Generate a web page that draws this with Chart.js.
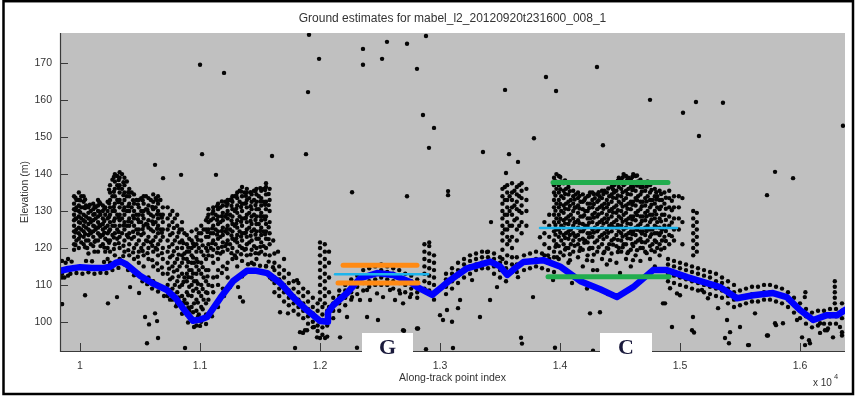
<!DOCTYPE html>
<html><head><meta charset="utf-8">
<script src="https://cdn.jsdelivr.net/npm/chart.js@4.4.0/dist/chart.umd.min.js"></script>
<style>html,body{margin:0;padding:0;background:#fff;overflow:hidden}canvas{display:block}</style>
</head><body>
<canvas id="c" width="856" height="398"></canvas>
<script>
// ---------- text ----------
const chartTitle = 'Ground estimates for mabel_l2_20120920t231600_008_1';
const xAxisTitle = 'Along-track point index';
const yAxisTitle = 'Elevation (m)';
const boxLabels = ['G', 'C'];

// ---------- axes ----------
const xTicks = [10000, 11000, 12000, 13000, 14000, 15000, 16000];
const yTicks = [100, 110, 120, 130, 140, 150, 160, 170];
const xRange = [9833, 16375];
const yRange = [92.1, 178.2];

// ---------- ground estimate (blue) ----------
const groundIdx = [9833,9900,10000,10100,10200,10250,10300,10340,10380,10500,10600,10725,10800,10860,10940,11000,11060,11170,11275,11390,11470,11560,11670,11775,11890,12000,12065,12066,12110,12225,12335,12475,12610,12750,12810,12935,13000,13085,13225,13420,13500,13560,13625,13695,13860,14000,14170,14335,14475,14610,14775,14890,15060,15335,15475,15610,15775,15890,16000,16110,16225,16310,16375];
const groundElev = [113.8,114.3,114.8,114.6,114.6,114.9,116.0,116.3,115.7,112.5,110.5,108.6,106.3,103.6,100.3,100.6,101.3,106.5,111.0,113.8,113.8,113.2,110.5,106.7,103.2,100.2,100.0,102.5,104.5,107.8,111.8,113.2,112.7,110.8,109.4,107.3,109.0,111.3,114.5,116.3,115.0,112.7,114.5,116.2,116.7,115.0,111.0,108.8,106.7,109.4,114.0,114.0,112.1,109.4,106.4,107.2,107.8,106.7,103.2,100.5,101.8,101.8,103.2];

// ---------- reference levels ----------
const gOrangeTop = [[12192,115.3],[12808,115.3]];
const gOrangeBot = [[12150,110.5],[12817,110.5]];
const gCyan      = [[12125,112.9],[12900,112.9]];
const cGreenTop  = [[13942,137.7],[14900,137.7]];
const cGreenBot  = [[13900,112.2],[14908,112.2]];
const cCyan      = [[13833,125.4],[14975,125.4]];

// ---------- photon returns (black), column form [index, [elevations]] ----------
const cloudLeft = [
[9850,[104.8,112,113,116.5]],[9900,[112.5,114.5,117]],
[9950,[119.5,121,123,124.5,126,127.5,129,130.5,132,134]],[9970,[122,125,128,131,133]],
[9990,[120,122.5,124,125.5,127,128.5,130,131.5,133,135]],[10010,[121.5,125,128,131,134]],
[10030,[121,123,124.5,126,127.5,129,131,132.5,134]],[10050,[122,125.5,128.5,131.5]],
[10070,[118.5,122,123.5,125,126.5,128,129.5,131]],[10090,[121,124,127,130]],
[10110,[120.5,123,124.5,126,127.5,129,130.5,132]],[10130,[122,125,128,131]],
[10150,[119,122,124,125.5,127,128.5,130,131.5,133]],[10170,[120.5,123,126,129,132]],
[10190,[121,123.5,125,126.5,128,130,131.5]],[10210,[119,122.5,125.5,129,131]],
[10230,[117,120,122,124,126,128,130,132.5]],
[10250,[116,119,122,125,127,129,131,133,135,137]],[10270,[123.5,126,130,134,138.5]],
[10290,[118,121,124,126,128,130,132,134,136,138,140]],[10310,[122.5,125,129,133,137,139.5]],
[10330,[117,120,123,126,127.5,129,131,133,135,137,139,140.5]],[10350,[124,128,132,136,140]],
[10370,[115.5,119,122,125,127,129,131,133,135,137,139]],[10390,[123.5,126,130,134,138]],
[10410,[118,121,124,126,128,130,132,134,136]],[10430,[122.5,127,131,135]],
[10450,[114,117,120,123,126,128,130,132,134.5]],[10470,[121,125,129,133]],
[10490,[113,116,119,122,125,127,129,131,133]],[10510,[120,123.5,127,130,133.5]],
[10530,[115,118,121,124,126,128,130,132,134]],[10550,[122,126.5,130.5,134]],
[10570,[112,117,120,123,125.5,127.5,129.5,131.5,133.5]],[10590,[121.5,125,129,133]],
[10610,[111,115,119,122,124.5,126.5,128.5,130.5,132.5,134.5]],[10630,[120,123,127,131,133.5]],
[10650,[110,114,118,121,124,126,128,130,132,134]],[10670,[122,125,129,133]],
[10690,[109,113,117,120,123,125,127,129,131]]
];
const fillLeft = [
[9962,[120.8,124.2,127.9,130.2,133.6]],[10002,[123.3,126.8,129.6,132.9]],
[10042,[120.2,123.8,127.1,130.8,133.1]],[10082,[124.6,127.9,131.7]],
[10122,[121.7,125.8,129.2,131.3]],[10162,[123.6,126.3,129.8,132.4]],
[10202,[120.1,124.1,127.3,130.6]],[10242,[121.4,124.6,128.4,132.1,135.8]],
[10282,[119.7,122.8,127.3,131.1,135.2,139.2]],[10322,[121.3,124.3,128.2,132.4,136.2,138.4]],
[10362,[120.6,126.1,130.2,134.3,137.8]],[10402,[119.4,122.9,127.2,131.3,135.1]],
[10442,[118.8,124.4,128.7,132.9]],[10482,[117.6,123.9,127.8,131.8]],
[10522,[119.2,125.1,128.9,132.9]],[10562,[118.6,121.8,126.3,130.3]],
[10602,[116.7,120.6,127.2,131.1]],[10642,[115.8,119.6,125.2,129.1,132.9]],
[10682,[114.7,118.6,124.1,128.2]]
];
const cloudTrough = [
[10730,[107,110,113,116,119,122,125,128,131]],[10750,[111.5,117.5,123.5,129]],
[10770,[106,109,112,115,118,121,124,127,130]],[10790,[110,116,122,128]],
[10810,[105,108,111,114,117,120,123,126,129]],[10830,[109.5,115,121.5,125]],
[10850,[104,107,110,113,116,118,120,122,125,127]],[10870,[106,112,118.5,124]],
[10890,[102,105,108,111,113,115,117,119,121,123.5]],[10910,[103,109.5,114,119,122.5]],
[10930,[101,104,107,110,112,114,116,118,120,122,124.5]],[10950,[105,111,116,120.5]],
[10970,[99,103,106,109,111,113,115,117,119,121,123,125]],[10990,[102,108,114,120,124]],
[11010,[100,104,107,110,113,116,119,122,124,126]],[11030,[106,112,118,125]],
[11050,[102,105,108,111,114,117,120,123,125,127.5]]
];
const cloudMid = [
[11070,[106,110,114,118,121,123,125,127,129,130.5]],[11090,[120,124,127.5]],
[11110,[108,112,116,119.5,122,124,126,128,130,131]],[11130,[121,125,129]],
[11150,[110,114,117,120,122.5,124.5,126.5,128.5,130.5,132]],[11170,[118.5,123,127,131]],
[11190,[109,115,119,121.5,123.5,125.5,127.5,129.5,131.5]],[11210,[120.5,124.5,128.5,132.5]],
[11230,[112,116,119.5,122,124,126,128,130,132,133]],[11250,[121,125,129,133]],
[11270,[117,120,122.5,124.5,126.5,128.5,130.5,132.5,134]],[11290,[118,122,126,130,134]],
[11310,[115,119,121.5,123.5,125.5,127.5,129.5,131.5,133.5,135]],[11330,[120.5,124.5,128.5,132.5,135.5]],
[11350,[116.5,120,122,124,126,128,130,132,134,136.5]],[11370,[119.5,124,128,132,135]],
[11390,[118,121,123,125,127,129,131,133,135,136]],[11410,[121.5,125.5,129.5,133.5]],
[11430,[116,119.5,122,124.5,126.5,128.5,130.5,132.5,134.5]],[11450,[120.5,125,129,133,135.5]],
[11470,[117,120,122.5,124.5,126.5,128.5,130.5,132.5,134.5,136]],[11490,[118.5,122.5,126.5,130.5,134]],
[11510,[119,121.5,123.5,125.5,127.5,129.5,131.5,133.5,135.5]],[11530,[120.5,124.5,128.5,132.5,136]],
[11550,[115,120,122.5,124.5,126.5,128.5,130.5,132.5,134.5,136.5,137.5]],
[11580,[118,121,124,127,130,133,136]]
];
const fillMid = [
[10742,[108.6,114.4,120.3,126.1]],[10782,[107.4,113.6,119.1,125.4]],
[10822,[106.6,112.3,118.2,124.2]],[10862,[105.1,110.8,117.1,121.3]],
[10902,[103.9,107.2,112.1,116.2,120.1]],[10942,[102.6,108.4,113.1,117.4,121.2]],
[10982,[101.3,105.2,110.3,116.2,122.2]],[11022,[103.4,108.9,114.8,120.7]],
[11062,[107.8,112.3,119.2,124.3,128.2]],[11102,[109.7,117.8,121.3,125.3,129.3]],
[11142,[112.2,118.7,123.6,127.6,131.3]],[11182,[113.2,120.3,124.6,128.6,132.6]],
[11222,[114.3,121.1,125.1,129.1,131.4]],[11262,[118.6,123.4,127.4,131.4,133.2]],
[11302,[117.3,122.6,126.6,130.6,134.2]],[11342,[118.3,123.1,127.1,131.1,135.3]],
[11382,[119.7,124.1,128.1,132.1,134.1]],[11422,[118.2,123.3,127.3,131.3,135.1]],
[11462,[118.6,123.6,127.6,131.6,135.4]],[11502,[120.3,124.6,128.6,132.6,136.2]],
[11542,[118.2,123.7,127.7,131.7,135.7]],[11572,[116.3,122.4,125.6,131.6,134.6]]
];
const bandDescent = [
[11620,[108,110.5,112,114,116,118.5]],[11660,[107,109,111.5,113,115]],
[11700,[105.5,108,110,112,114,117]],[11740,[104.5,106.5,108.5,110.5,113]],
[11780,[103,105,107,109,111]],[11820,[102,104,106,108,110.5]],
[11860,[101,103,105,107,109]],[11900,[99.5,101.5,103.5,105.5,108]],
[11940,[98.5,100,102,104,106.5]],[11980,[97.5,99,101,103,105]],
[12000,[106,108,110,112,114,116,118,120,121.5]],[12020,[96.5,98.5,100.5,102,104]],
[12040,[105,107,109,111,113,115,117,119,121]],[12060,[96,99,101.5,103]],
[12075,[104,108,112,116,119]]
];
const bandG = [
[12110,[101,103,105,106.5]],[12160,[103,105,107,108.5]],[12210,[104.5,106.5,108.5,110]],
[12260,[106,108,110,111.5]],[12310,[107.5,109.5,111,112.5]],[12360,[108.5,110.5,112,114]],
[12410,[109.5,111,112.5,114.5]],[12460,[110,111.5,113,115]],[12510,[110,112,114,115.5]],
[12560,[110,111.5,113.5,115]],[12610,[109,111,113,114.5]],[12660,[108.5,110.5,112,114]],
[12710,[108,110,111.5,113]],[12760,[107.5,109,111,112.5]],[12810,[106.5,108,110,111.5]],
[12870,[109,111,113,115,117,119,121]],[12910,[108.5,110.5,112.5,114.5,116.5,118.5,120.5,121.5]],
[12950,[106,110,112,114,116,118]],
[13050,[107.5,109.5,111.5,113]],[13100,[109,111,113,114.5]],[13150,[110.5,112.5,114,116]],
[13200,[112,114,115.5,117]],[13250,[113,115,116.5,118]],[13300,[114,115.5,117,118.5]],
[13350,[114.5,116,117.5,119]],[13400,[114.5,116,117.5,119]],[13450,[113,115,117,118.5]],
[13500,[112,114,116,117.5]],[13550,[111,113,114.5,116]]
];
const cloudD = [
[13520,[117,119.5,122,124,126,128,130,132,134,136]],[13540,[125,129,133,136.5]],
[13560,[118,121,123,125,127,129,131,133,135,137]],[13580,[122,126,130,134]],
[13600,[113.5,115.5,117.5,120,123,126,129,131,133,135,137.5]],[13620,[127.5,131.5,135.5]],
[13640,[113.5,115.5,117.5,122,125,128,130.5,132.5,134.5,136.5]],[13660,[126,130,134,137]],
[13680,[124,127,129.5,131.5,133.5,135.5,137.5]],[13700,[114,116,118]],
[13720,[126,130,133,136]],[13750,[114.5,116.5,118.5]],[13800,[115,117,119]],
[13850,[114.5,116.5,118.5]],[13900,[114,116,118]],[13950,[113.5,115.5,117.5]]
];
const cloudC = [
[13870,[118,121,124,127]],[13910,[117,120,123,126,129]],
[13950,[119,122,124.5,127,129,131,133,135,137,139]],[13970,[121,125,128,132,136,140]],
[13990,[117,120.5,123,125,127,129,131,133,135,137,139.5]],[14010,[122,126,130,134,138]],
[14030,[118,121,123.5,125.5,127.5,129.5,131.5,133.5,135.5,137.5]],[14050,[120,124,128,132,136]],
[14070,[116,120,122.5,124.5,126.5,128.5,130.5,132.5,134.5,136.5]],[14090,[121,125,129,133]],
[14110,[119,122,124,126,128,130,132,134,135.5]],[14130,[123,127,131,134.5]],
[14150,[117.5,121,123.5,125.5,127.5,129.5,131.5,133.5,135]],[14170,[120,124.5,128.5,132.5]],
[14190,[115,119.5,122.5,124.5,126.5,128.5,130.5,132.5,134.5]],[14210,[122,126,130,133.5]],
[14230,[118,121.5,124,126,128,130,132,134]],[14250,[120,124,128,132,135]],
[14270,[116.5,120,123,125,127,129,131,133,135]],[14290,[121.5,125.5,129.5,133.5]],
[14310,[114,119,122,124.5,126.5,128.5,130.5,132.5,134.5]],[14330,[123,127,131,134]],
[14350,[117,121,123.5,125.5,127.5,129.5,131.5,133.5,135.5]],[14370,[119,124,128,132,135.5]],
[14390,[115.5,120,123,125,127,129,131,133,135]],[14410,[121,126,130,134]],
[14430,[118.5,122,124.5,126.5,128.5,130.5,132.5,134.5,136.5]],[14450,[122.5,127,131,135,137]],
[14470,[116,120.5,123.5,125.5,127.5,129.5,131.5,133.5,135.5,137.5]],[14490,[120,124.5,128.5,132.5,136.5,139]],
[14510,[119,122,124,126,128,130,132,134,136,138.5]],[14530,[121,125,129,133,137,140]],
[14550,[117,121,123.5,125.5,127.5,129.5,131.5,133.5,135.5,137.5,139.5]],[14570,[119,124,128,132,136,139]],
[14590,[115,119.5,122.5,124.5,126.5,128.5,130.5,132.5,134.5,136.5,138.5]],[14610,[120.5,124.5,128.5,132.5,136.5,140]],
[14630,[118,121.5,123.5,125.5,127.5,129.5,131.5,133.5,135.5,137.5,139.5]],[14650,[122,126,130,134,138]],
[14670,[116.5,120,122.5,124.5,126.5,128.5,130.5,132.5,134.5,136.5,138.5]],[14690,[120,124.5,128.5,132.5,136.5]],
[14710,[119,121.5,123.5,125.5,127.5,129.5,131.5,133.5,135.5,137.5]],[14730,[122,126,130,134,138]],
[14750,[117,120.5,123,125,127,129,131,133,135,137]],[14770,[121,125,129,133]],
[14790,[115,119,122,124,126,128,130,132,134,136]],[14810,[120,124,127,131,134]],
[14830,[118,121,123.5,125.5,128,130.5,133,135.5]],[14850,[122,125,129,133]],
[14870,[120,123,126,129,132,135]],[14910,[121,123.5,126,128.5,131,133.5,135.5]],
[14950,[122,125,128,131,134]],[14990,[125,128,131,134]],[15020,[121,127,133.5]],
[15110,[118,120,122,124,126,128,130]],[15140,[119,121,123,125,127,129.5]]
];
const fillC = [
[13962,[120.3,123.6,126.2,130.1,134.2,138.1]],[14002,[118.8,124.1,127.9,131.9,135.9,139.2]],
[14042,[119.6,122.7,126.6,130.6,134.6,138.3]],[14082,[118.3,123.5,127.4,131.4,135.4]],
[14122,[120.6,123.3,126.9,130.9,133.1]],[14162,[119.2,122.2,126.7,130.7,134.1]],
[14202,[121.4,125.2,128.9,132.9]],[14242,[119.7,122.9,126.8,130.8,134.2]],
[14282,[118.2,124.2,128.2,131.9,134.6]],[14322,[120.2,125.1,129.1,132.9,135.1]],
[14362,[118.6,122.4,126.6,130.6,134.6]],[14402,[119.8,124.1,127.9,131.9,136.1]],
[14442,[120.9,125.6,129.6,133.6,135.9]],[14482,[118.9,122.2,126.2,130.2,134.2,138.2]],
[14522,[120.2,123.1,127.1,131.2,135.1,139.1]],[14562,[118.6,122.6,126.6,130.6,134.6,138.6]],
[14602,[121.1,123.7,127.7,131.7,135.7,139.2]],[14642,[119.4,124.9,128.9,132.9,136.9,139.6]],
[14682,[121.6,123.9,127.3,131.3,135.3,137.6]],[14722,[118.6,124.6,128.6,132.6,136.6]],
[14762,[119.4,123.7,127.7,131.7,135.7]],[14802,[121.6,125.6,129.1,133.1,135.1]],
[14842,[119.6,124.2,127.2,131.2,134.6]],[14882,[121.9,124.6,127.6,130.6,133.6]],
[14932,[123.2,126.9,130.2,132.8]]
];
const bandRight = [
[14900,[111,113,115.5,117]],[14950,[110.5,112.5,115,116.5]],[15000,[110,112,114.5,116]],
[15050,[109.5,111.5,114,115.5]],[15100,[109,111,113.5,115]],[15150,[108.5,110.5,113,114.5]],
[15200,[108,110,112.5,114]],[15250,[107.5,109.5,112,113.5]],[15300,[107,109,111,113]],
[15350,[106.5,108.5,110.5,112]],[15400,[105,107,109,111]],[15450,[104,106,108,110]],
[15500,[104.5,106.5,108.5]],[15550,[105,107,109]],[15600,[105.5,107.5,109.5]],
[15650,[105.5,107.5,109.5]],[15700,[106,108,110]],[15750,[106,108,110]],
[15800,[105.5,107.5,109.5]],[15850,[105,107,109]],[15900,[104,106,108]],
[15950,[102.5,104.5,106.5]],[16000,[101,103,105]],[16050,[99.5,101.5,103.5]],
[16100,[98.5,100.5,102.5]],[16150,[99,101,103]],[16200,[99.5,101.5,103]],
[16250,[99.5,101.5,103.5]],[16290,[105,106.5,108,109.5,111]],[16300,[99.5,101.5,103.5]],
[16350,[101,103,105]]
];
// scattered single returns [index, elevation]
const groundFringe = [
[9870,112],[9920,113],[9970,113.2],[10020,113],[10070,113.4],[10120,113],[10170,113.3],[10220,113.2],
[10270,114],[10320,114.6],[9880,116],[9930,116.3],[10050,116.5],[10100,116.4],[10200,116.2],[10360,117.8],
[10400,114],[10450,112.6],[10520,111],[10560,110.2],[10600,109],[10650,108.2],[10700,107],[10750,106],
[10800,104.2],[10850,102.2],[10900,99.8],[10950,98.6],[11000,98.9],[11050,99.4],[11100,101.5],[11150,104],
[11200,107],[11250,109.4],[11300,111.6],[11350,112.3],[11400,115.6],[11450,115.6],[11500,115.2],[11550,115.1],
[11600,111.5],[11583,112],[11608,114.8],[11808,111.3],[11610,122],[11650,119]
];
const scatterLow = [
[10042,107.2],[10233,105],[10308,106.7],[10417,109.4],[10492,107.8],[10542,101.3],[10575,99.3],[10625,102.3],
[10642,100.2],[11333,106.7],[11317,109.4],[11358,105.5],[11667,102.6],[11733,102.3],[11833,97.2],[11892,97.7],
[11975,95.8],[11942,102.3],[12267,106.7],[12333,105.9],[12392,108.6],[12417,105.9],[12475,107.7],[12525,106.7],
[12583,108.6],[12625,105.9],[12667,107.7],[12692,105],[12750,106.7],[12392,101.3],[12483,100.5],[12692,97.7],
[12808,98.2],[12000,95.6],[12042,95.6],[11875,97.7],[12167,95.8],[12225,101.3],[13058,103.2],[13025,100.5],
[13100,100],[12308,93],[13167,105.9],[13150,103.7],[13000,101.8],[13333,101.3],[13417,105.9],[13267,111.3],
[13475,109.4],[13392,118.9],[13775,106.7],[13683,94.1],[13650,112.1],[13833,122.9],[13975,117.5],[14083,116.7],
[14225,116.7],[14417,116.7],[14608,116.7],[14275,114],[14500,113.2],[14250,102.3],[14333,102.6],[14858,105],
[14975,107.7],[15108,101.3],[15100,97.7],[13942,111.3],[14225,109],[14100,110.5],[14400,107.5],[14875,105],
[15000,107.2],[15183,108.6],[15233,106.4],[15317,103.7],[15392,100.5],[15417,97.2],[15375,95.6],[15500,98.6],
[15567,93.7],[15625,102.3],[15725,96.3],[15792,99.6],[15858,99.6],[15975,100.5],[16017,95.8],[16042,93.7],
[16083,94.2],[16167,97],[16225,97.7],[16275,95.8],[16350,97.2],[14917,109.1],[16167,99.6],[16208,97.7],
[16333,98.6],[16350,96.3],[16040,106.7],[16045,108],
[10558,94.2],[10650,95.6],[10875,92.9],[11792,92.9],[11858,97],[11950,98.6],[12700,97.6],[12817,98.2],
[12883,92.6],[13108,92.9],[13675,95.7],[13958,93],[14275,92.2],[14933,98.6],[15117,97.1],[15408,94.2],
[15575,93.7],[15733,96.3],[15800,99.1],[16075,95],[16233,98.2],[9850,104.8],[10060,120],[10120,119],[13425,127]
];
const scatterHigh = [
[11000,169.6],[11200,167.4],[11908,177.7],[11992,171.2],[11900,162.2],[12358,173.9],[12358,169.6],[12558,175.8],
[12517,171.2],[12725,175.3],[12883,177.4],[12808,168.5],[12858,156],[12950,152.5],[12908,147.1],[13542,162.8],
[13883,166.3],[13967,162.5],[14308,169],[14750,160.1],[15133,159.5],[15025,156.6],[15158,150.3],[15358,159.3],
[13783,149.7],[14358,147.8],[13575,145.4],[13650,143.3],[13550,140.3],[12267,135.1],[12725,134],[13067,135.4],
[13067,134.3],[13358,146],[11017,145.4],[11600,144.9],[11883,145.4],[10625,142.5],[10842,139.8],[11133,139.8],
[10692,138.9],[15792,140.6],[15942,138.9],[15725,134.3],[16358,153.1]
];

// ---------- build ----------
function colsToPts(cols){ const out=[]; cols.forEach(([x,ys])=>ys.forEach(y=>out.push({x:x,y:y}))); return out; }
function pairsToPts(p){ return p.map(([x,y])=>({x:x,y:y})); }
const photonPts = [].concat(
  colsToPts(cloudLeft), colsToPts(fillLeft), colsToPts(cloudTrough), colsToPts(cloudMid), colsToPts(fillMid),
  colsToPts(bandDescent), colsToPts(bandG), colsToPts(cloudD), colsToPts(cloudC), colsToPts(fillC),
  colsToPts(bandRight), pairsToPts(groundFringe), pairsToPts(scatterLow), pairsToPts(scatterHigh)
);
const groundPts = groundIdx.map((x,i)=>({x:x,y:groundElev[i]}));

function levelLine(pts, color, width){
  return {type:'line', data:pairsToPts(pts), borderColor:color, borderWidth:width, pointRadius:0,
          borderCapStyle:'round', showLine:true, order:1, tension:0};
}

const PLOT = {left:60, right:845, top:33, bottom:351};

const decor = {
  id:'decor',
  beforeDraw(chart){
    const ctx = chart.ctx, a = chart.chartArea;
    ctx.save();
    ctx.fillStyle = '#ffffff'; ctx.fillRect(0,0,chart.width,chart.height);
    ctx.fillStyle = '#c0c0c0'; ctx.fillRect(a.left, a.top, a.right-a.left, a.bottom-a.top);
    const xs = chart.scales.x, ys = chart.scales.y;
    ctx.strokeStyle = '#3a3a3a'; ctx.lineWidth = 1;
    ctx.beginPath();
    xTicks.forEach(v=>{ const p=Math.round(xs.getPixelForValue(v))+0.5; ctx.moveTo(p,a.bottom); ctx.lineTo(p,a.bottom-8); });
    yTicks.forEach(v=>{ const p=Math.round(ys.getPixelForValue(v))+0.5; ctx.moveTo(a.left,p); ctx.lineTo(a.left+8,p); });
    ctx.stroke();
    ctx.restore();
  },
  afterDraw(chart){
    const ctx = chart.ctx, a = chart.chartArea;
    ctx.save();
    ctx.strokeStyle = '#3a3a3a'; ctx.lineWidth = 1.2;
    ctx.beginPath();
    ctx.moveTo(a.left+0.5, a.top); ctx.lineTo(a.left+0.5, a.bottom+0.5);
    ctx.lineTo(a.right, a.bottom+0.5);
    ctx.stroke();
    ctx.fillStyle = '#333';
    ctx.textAlign = 'center'; ctx.textBaseline = 'middle';
    ctx.font = '12px "Liberation Sans", Arial, sans-serif';
    ctx.fillText(chartTitle, (a.left+a.right)/2, 19);
    ctx.font = '10.5px "Liberation Sans", Arial, sans-serif';
    ctx.fillText(xAxisTitle, (a.left+a.right)/2, 378);
    ctx.save();
    ctx.translate(25, 192); ctx.rotate(-Math.PI/2);
    ctx.fillText(yAxisTitle, 0, 0);
    ctx.restore();
    ctx.textAlign = 'left';
    ctx.font = '10px "Liberation Sans", Arial, sans-serif';
    ctx.fillText('x 10', 813, 383);
    ctx.font = '7.5px "Liberation Sans", Arial, sans-serif';
    ctx.fillText('4', 834, 377);
    const boxes = [[362,333,51,25],[600,333,52,25]];
    boxes.forEach((b,i)=>{
      ctx.fillStyle = '#ffffff'; ctx.fillRect(b[0],b[1],b[2],b[3]);
      ctx.fillStyle = '#1a1a3c';
      ctx.font = 'bold 22px "Liberation Serif", "Times New Roman", serif';
      ctx.textAlign = 'center'; ctx.textBaseline = 'middle';
      ctx.fillText(boxLabels[i], b[0]+b[2]/2, b[1]+15);
    });
    ctx.strokeStyle = '#000'; ctx.lineWidth = 2.5;
    ctx.strokeRect(3.5, 1.2, 849.5, 392.8);
    ctx.restore();
  }
};

new Chart(document.getElementById('c'), {
  type:'scatter',
  data:{ datasets:[
    levelLine(gOrangeTop, '#ff8a14', 5),
    levelLine(gOrangeBot, '#ff8a14', 5),
    levelLine(cGreenTop, '#22ad4e', 5),
    levelLine(cGreenBot, '#22ad4e', 5),
    levelLine(gCyan, '#1cb4ec', 2.5),
    levelLine(cCyan, '#1cb4ec', 2.5),
    {type:'line', data:groundPts, borderColor:'#0000ff', borderWidth:6.5, pointRadius:0, tension:0,
     borderCapStyle:'round', borderJoinStyle:'round', order:2},
    {type:'scatter', data:photonPts, pointRadius:2.2, pointBackgroundColor:'#050505', pointBorderWidth:0,
     pointBorderColor:'#050505', order:3}
  ]},
  options:{
    responsive:false, animation:false, events:[],
    layout:{padding:{left:0, right:856-PLOT.right, top:PLOT.top, bottom:0}},
    plugins:{legend:{display:false}, tooltip:{enabled:false}, title:{display:false}},
    scales:{
      x:{type:'linear', min:xRange[0], max:xRange[1],
         afterBuildTicks:s=>{ s.ticks = xTicks.map(v=>({value:v})); },
         afterFit:s=>{ s.height = 398-PLOT.bottom; },
         grid:{display:false, drawTicks:false}, border:{display:false},
         ticks:{padding:9, color:'#333', font:{family:'"Liberation Sans", Arial, sans-serif', size:10.5},
                maxRotation:0, autoSkip:false,
                callback:v=>String(Number((v/10000).toFixed(1)))}},
      y:{type:'linear', min:yRange[0], max:yRange[1],
         afterBuildTicks:s=>{ s.ticks = yTicks.map(v=>({value:v})); },
         afterFit:s=>{ s.width = PLOT.left; },
         grid:{display:false, drawTicks:false}, border:{display:false},
         ticks:{padding:8, color:'#333', font:{family:'"Liberation Sans", Arial, sans-serif', size:10.5},
                autoSkip:false, callback:v=>String(v)}}
    }
  },
  plugins:[decor]
});
</script>
</body></html>
